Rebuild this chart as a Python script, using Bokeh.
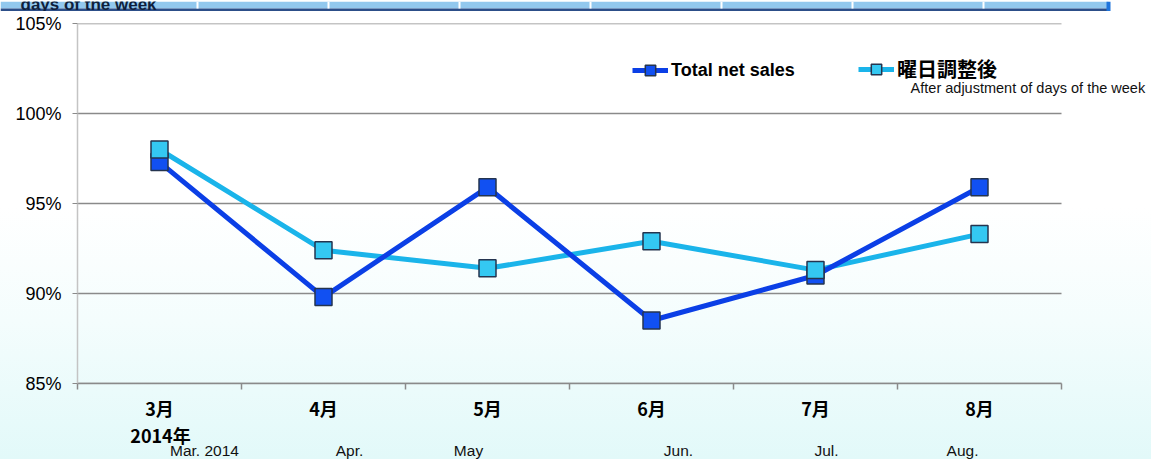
from bokeh.plotting import figure
from bokeh.models import Range1d, FixedTicker, Legend, LegendItem, ColumnDataSource
from bokeh.layouts import column
from bokeh.embed import file_html
from bokeh.resources import INLINE
from bokeh.core.properties import value

# ---------------- data ----------------
months_jp = ["3月", "4月", "5月", "6月", "7月", "8月"]
months_en = ["Mar. 2014", "Apr.", "May", "Jun.", "Jul.", "Aug."]
year_label = "2014年"
total_net_sales = [97.3, 89.8, 95.9, 88.5, 91.0, 95.9]
adjusted = [98.0, 92.4, 91.4, 92.9, 91.3, 93.3]
y_ticks = [85, 90, 95, 100, 105]
series_names = ["Total net sales", "曜日調整後"]
adjusted_note = "After adjustment of days of the week"
header_text = "days of the week"

# ---------------- layout / style ----------------
EN_FONT = "Liberation Sans"
JP_FONT = "Noto Sans CJK JP"
C_TOTAL_LINE = "#0b3fe6"
C_TOTAL_FILL = "#1150f2"
C_ADJ_LINE = "#1ab4ea"
C_ADJ_FILL = "#34c8f2"
C_MARK_EDGE = "#24344f"
C_GRID = "#8a8a8a"
en_label_offsets = [45, 26, -19, 27, 11, -17]   # px offsets of English labels from category centres
W, BL, AXIS_RIGHT = 1151, 77, 1061              # canvas width, frame left, right end of the axis

n = len(months_jp)
xs = [i + 0.5 for i in range(n)]
src = ColumnDataSource(dict(x=xs, total=total_net_sales, adj=adjusted))
x_range = Range1d(0, n * (W - BL) / (AXIS_RIGHT - BL))


def bare(fig):
    fig.outline_line_color = None
    fig.background_fill_alpha = 0
    fig.border_fill_alpha = 0
    fig.xgrid.visible = False
    fig.ygrid.visible = False


# ---------------- header strip ----------------
h = figure(width=W, height=11, x_range=Range1d(0, W), y_range=Range1d(11, 0),
           output_backend="svg", toolbar_location=None,
           x_axis_location=None, y_axis_location=None,
           min_border=0, min_border_left=0, min_border_right=0, min_border_top=0, min_border_bottom=0)
try:
    h.frame_align = False
except Exception:
    pass
bare(h)
h.quad(left=0, right=1108, top=0, bottom=7, fill_color="#92c8ee", line_color=None)
h.quad(left=0, right=1108, top=7, bottom=10.5, fill_color="#2c4e88", line_color=None)
h.quad(left=[196, 327, 458, 589, 720, 851, 982], right=[198, 329, 460, 591, 722, 853, 984],
       top=0, bottom=7, fill_color="white", line_color=None)
h.quad(left=1106, right=1110, top=0, bottom=11, fill_color="#1f74dc", line_color=None)
h.text(x=[20], y=[3], text=[header_text], text_font=value(EN_FONT), text_font_style="bold",
       text_font_size="17px", text_color="#0f1f3c", text_baseline="alphabetic")

# ---------------- main chart ----------------
p = figure(width=W, height=412, x_range=x_range, y_range=Range1d(85, 105),
           output_backend="svg", toolbar_location=None,
           min_border_left=BL, min_border_right=0, min_border_top=12, min_border_bottom=40)
p.outline_line_color = None
p.background_fill_alpha = 0
p.border_fill_alpha = 0
p.xgrid.visible = False
p.ygrid.visible = False

# horizontal grid lines, limited to the category span
p.segment(x0=[0] * len(y_ticks), x1=[n] * len(y_ticks), y0=y_ticks, y1=y_ticks,
          line_color=C_GRID, line_width=1.6)

ya = p.yaxis[0]
ya.ticker = FixedTicker(ticks=y_ticks)
ya.major_label_overrides = {t: f"{t}%" for t in y_ticks}
ya.axis_line_color = "#c4c4c4"
ya.axis_line_width = 1.5
ya.major_tick_line_color = C_GRID
ya.major_tick_out = 5
ya.major_tick_in = 0
ya.minor_tick_line_color = None
ya.major_label_text_font = EN_FONT
ya.major_label_text_font_size = "18px"
ya.major_label_text_color = "black"
ya.major_label_standoff = 11

xa = p.xaxis[0]
xa.ticker = FixedTicker(ticks=xs, minor_ticks=list(range(n + 1)))
xa.bounds = (0, n)
xa.major_label_overrides = {x: m for x, m in zip(xs, months_jp)}
xa.axis_line_color = C_GRID
xa.axis_line_width = 1.6
xa.major_tick_line_color = None
xa.major_tick_out = 0
xa.major_tick_in = 0
xa.minor_tick_line_color = C_GRID
xa.minor_tick_line_width = 1.5
xa.minor_tick_out = 6
xa.minor_tick_in = 0
xa.major_label_text_font = JP_FONT
xa.major_label_text_font_style = "bold"
xa.major_label_text_font_size = "18px"
xa.major_label_text_color = "black"
xa.major_label_standoff = 5

# series
l_adj = p.line("x", "adj", source=src, line_color=C_ADJ_LINE, line_width=5)
l_tot = p.line("x", "total", source=src, line_color=C_TOTAL_LINE, line_width=5)
m_tot = p.scatter("x", "total", source=src, marker="square", size=17,
                  fill_color=C_TOTAL_FILL, line_color=C_MARK_EDGE, line_width=1.5)
m_adj = p.scatter("x", "adj", source=src, marker="square", size=17,
                  fill_color=C_ADJ_FILL, line_color=C_MARK_EDGE, line_width=1.5)

# legends
leg1 = Legend(items=[LegendItem(label=series_names[0], renderers=[l_tot, m_tot])],
              location=(555, 300), orientation="horizontal")
leg2 = Legend(items=[LegendItem(label=series_names[1], renderers=[l_adj, m_adj])],
              location=(781, 300), orientation="horizontal")
for lg, font, size in ((leg1, EN_FONT, "18px"), (leg2, JP_FONT, "20px")):
    lg.background_fill_alpha = 0
    lg.border_line_color = None
    lg.padding = 0
    lg.margin = 0
    lg.glyph_width = 36
    lg.glyph_height = 26
    lg.label_standoff = 3
    lg.label_text_font = font
    lg.label_text_font_style = "bold"
    lg.label_text_font_size = size
    lg.label_text_color = "black"
    lg.label_text_baseline = "middle"
    p.add_layout(lg, "center")

# note under the second legend entry (x just right of its marker, in category units)
p.text(x=[n - 0.92], y=[101.44], text=[adjusted_note], text_font=value(EN_FONT),
       text_font_size="14.5px", text_color="#111111", text_baseline="middle", text_align="left")

# ---------------- secondary axis texts ----------------
b = figure(width=W, height=36, x_range=x_range, y_range=Range1d(36, 0),
           output_backend="svg", toolbar_location=None,
           x_axis_location=None, y_axis_location=None,
           min_border_left=BL, min_border_right=0, min_border_top=0, min_border_bottom=0)
bare(b)
b.text(x=[xs[0]], y=[11.5], x_offset=1, text=[year_label], text_font=value(JP_FONT),
       text_font_style="bold", text_font_size="18px", text_color="black",
       text_align="center", text_baseline="middle")
b.text(x=xs, y=[27] * n, x_offset=en_label_offsets, text=months_en, text_font=value(EN_FONT),
       text_font_size="15.5px", text_color="#111111", text_align="center", text_baseline="middle")

layout = column(h, p, b, spacing=0, styles={
    "background-image": "linear-gradient(to bottom, #ffffff 0%, #ffffff 45%, #f4fdfd 70%, #e2f9f9 100%)",
    "margin": "0", "padding": "0"})

open("out.html", "w").write(file_html(layout, INLINE))
